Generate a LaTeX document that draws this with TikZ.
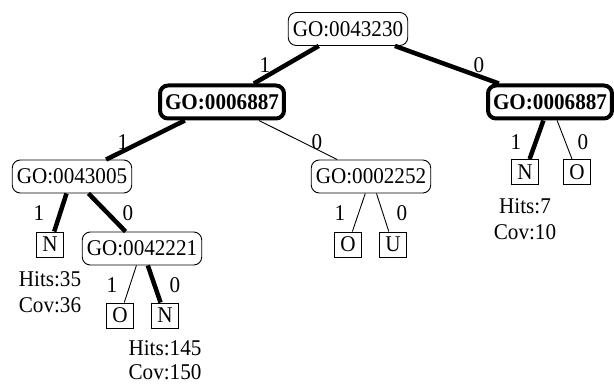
\documentclass[tikz,border=0pt]{standalone}
\usepackage{fontspec}
\setmainfont{Liberation Serif}[FakeStretch=0.94]
\begin{document}
\begin{tikzpicture}[x=1pt,y=-1pt,
  every node/.style={font=\fontsize{22.5}{26}\selectfont},
  gobox/.style={draw, rounded corners=8pt, line width=0.9pt, inner xsep=4.5pt, minimum height=33pt, inner ysep=0pt},
  gobold/.style={gobox, line width=4pt, font=\fontsize{22.5}{26}\selectfont\bfseries, inner xsep=5pt},
  leaf/.style={draw, line width=0.9pt, minimum width=27pt, minimum height=25pt, inner sep=0pt},
  lbl/.style={inner sep=0pt},
  info/.style={inner sep=0pt, anchor=base},
  thin/.style={line width=0.9pt},
  heavy/.style={line width=4.5pt}]
\useasboundingbox (0,0) rectangle (614,385);
% nodes
\node[gobox] (root) at (348,29) {GO:0043230};
\node[gobold] (L) at (222,102) {GO:0006887};
\node[gobold] (R) at (550,102) {GO:0006887};
\node[gobox] (A) at (72,176.5) {GO:0043005};
\node[gobox] (B) at (371,176.5) {GO:0002252};
\node[leaf] (NR) at (525,172) {N};
\node[leaf] (OR) at (577,172) {O};
\node[leaf] (N1) at (50,244.5) {N};
\node[gobox] (C) at (142,248.5) {GO:0042221};
\node[leaf] (O2) at (348,244.5) {O};
\node[leaf] (U) at (393,244.5) {U};
\node[leaf] (O3) at (120,315.5) {O};
\node[leaf] (N3) at (165,315.5) {N};
% info texts
\node[info] (h35) at (50,287) {Hits:35};
\node[info] (c36) at (50,312.5) {Cov:36};
\node[info] (h145) at (165,355) {Hits:145};
\node[info] (c150) at (165,379.5) {Cov:150};
\node[info] (h7) at (525,214) {Hits:7};
\node[info] (c10) at (525,239.5) {Cov:10};
% edges
\draw[heavy] (root) -- (L);
\draw[heavy] (root) -- (R);
\draw[heavy] (L) -- (A);
\draw[thin] (L) -- (B);
\draw[heavy] (A) -- (N1);
\draw[heavy] (A) -- (C);
\draw[thin] (B) -- (O2);
\draw[thin] (B) -- (U);
\draw[thin] (C) -- (O3);
\draw[heavy] (C) -- (N3);
\draw[heavy] (R) -- (NR);
\draw[thin] (R) -- (OR);
% edge labels
\node[lbl] (e1) at (265,65) {1};
\node[lbl] (e2) at (479,65) {0};
\node[lbl] (e3) at (123,142) {1};
\node[lbl] (e4) at (317,142) {0};
\node[lbl] (e5) at (39,213) {1};
\node[lbl] (e6) at (128,213) {0};
\node[lbl] (e7) at (340,213) {1};
\node[lbl] (e8) at (402,213) {0};
\node[lbl] (e9) at (112,285) {1};
\node[lbl] (e10) at (175,285) {0};
\node[lbl] (e11) at (516,142) {1};
\node[lbl] (e12) at (583,142) {0};
\end{tikzpicture}
\end{document}
